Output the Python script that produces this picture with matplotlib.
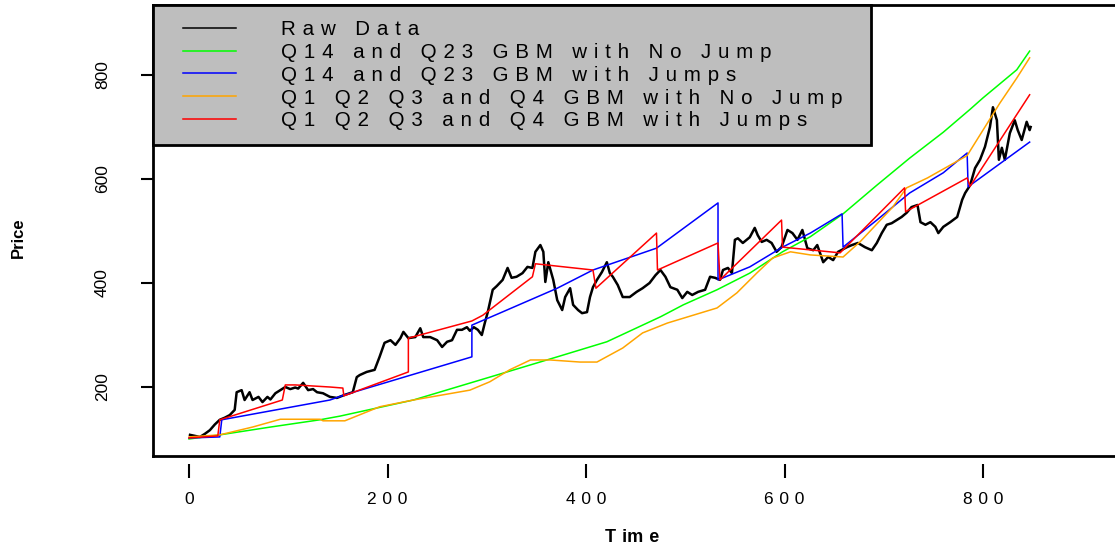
import matplotlib
matplotlib.use("Agg")
import matplotlib.pyplot as plt
from matplotlib import font_manager
from matplotlib.lines import Line2D
from matplotlib.legend_handler import HandlerLine2D

# raw price series
raw_t = [1, 6, 11, 16, 21, 26, 31, 36, 41, 46, 48, 53, 56, 61, 64, 70, 74, 79, 82, 87,
         92, 97, 102, 107, 110, 115, 120, 125, 129, 135, 142, 149, 157, 165, 169, 172, 179,
         187, 192, 197, 203, 208, 213, 216, 221, 228, 233, 236, 243, 250, 255, 260, 265,
         270, 275, 280, 283, 287, 291, 295, 298, 301, 306, 310, 316, 321, 325, 330, 336,
         341, 346, 349, 354, 357, 359, 362, 367, 371, 376, 379, 384, 387, 392, 396, 401,
         404, 407, 411, 416, 421, 424, 427, 432, 437, 444, 451, 457, 464, 470, 475, 480,
         485, 492, 497, 502, 507, 513, 520, 525, 530, 535, 538, 543, 547, 550, 553, 558,
         565, 570, 573, 577, 582, 587, 592, 597, 603, 608, 613, 618, 623, 629, 633, 639,
         644, 649, 654, 663, 668, 674, 681, 688, 693, 698, 703, 708, 713, 718, 723, 728,
         734, 737, 742, 747, 752, 755, 760, 767, 774, 779, 782, 787, 792, 797, 802, 807,
         810, 814, 816, 819, 822, 827, 832, 835, 839, 844, 847, 848]
raw_price = [108, 106, 104, 110, 117, 128, 137, 141, 146, 156, 190, 194, 175, 190, 175, 181,
             171, 181, 176, 188, 194, 200, 196, 199, 197, 208, 194, 196, 190, 188, 181, 179,
             185, 190, 219, 223, 229, 233, 258, 285, 290, 281, 294, 306, 294, 296, 313, 296,
             296, 290, 277, 287, 290, 310, 310, 315, 308, 315, 310, 300, 323, 344, 387, 394,
             406, 429, 410, 412, 419, 431, 429, 460, 473, 460, 402, 440, 406, 367, 348, 373,
             390, 358, 348, 342, 344, 373, 392, 406, 421, 440, 419, 412, 396, 373, 373, 383,
             390, 400, 415, 425, 412, 392, 387, 371, 383, 377, 383, 387, 412, 410, 406, 425,
             429, 419, 483, 486, 477, 488, 506, 492, 479, 483, 477, 460, 469, 502, 496, 483,
             502, 467, 463, 473, 440, 450, 444, 460, 469, 473, 477, 469, 463, 477, 496, 512,
             515, 521, 527, 535, 546, 550, 517, 512, 517, 508, 496, 508, 517, 527, 560, 573,
             588, 621, 637, 662, 700, 738, 713, 637, 660, 637, 688, 713, 694, 675, 710, 694, 700]

# Q14 and Q23 GBM, no jump
green_t = [0, 31, 82, 132, 152, 226, 303, 371, 421, 475, 498, 532, 565, 598, 626, 659, 693,
           726, 760, 787, 800, 834, 847]
green_price = [100, 108, 123, 137, 144, 175, 219, 258, 287, 335, 358, 387, 419, 460, 489, 533,
               588, 640, 690, 734, 756, 810, 846]

# Q14 and Q23 GBM, with jumps
blue_t = [0, 31, 33, 142, 157, 285, 285, 313, 371, 407, 471, 533, 533, 565, 598, 626, 658,
          659, 693, 726, 760, 784, 785, 847]
blue_price = [102, 104, 137, 175, 185, 258, 319, 342, 390, 425, 467, 554, 406, 431, 469, 496,
              533, 469, 521, 573, 612, 650, 585, 671]

# Q1 Q2 Q3 and Q4 GBM, no jump
orange_t = [0, 31, 64, 92, 132, 135, 157, 192, 226, 283, 303, 323, 344, 364, 394, 411, 437,
            457, 482, 532, 552, 572, 588, 606, 626, 659, 676, 709, 723, 744, 784, 800, 817,
            834, 847]
orange_price = [104, 108, 123, 138, 138, 135, 135, 162, 175, 194, 210, 233, 252, 252, 248, 248,
                275, 304, 323, 352, 381, 419, 448, 460, 454, 450, 479, 546, 583, 602, 645, 694,
                746, 794, 833]

# Q1 Q2 Q3 and Q4 GBM, with jumps
red_t = [0, 29, 31, 94, 97, 107, 142, 155, 156, 221, 221, 285, 296, 346, 349, 407, 410, 471,
         472, 533, 535, 597, 598, 656, 721, 722, 784, 787, 847]
red_price = [102, 106, 137, 175, 204, 204, 200, 198, 183, 229, 294, 327, 338, 412, 437, 425,
             390, 496, 425, 477, 406, 521, 469, 458, 583, 537, 602, 586, 762]

labels = ["Raw Data", "Q14 and Q23 GBM with No Jump", "Q14 and Q23 GBM with Jumps",
          "Q1 Q2 Q3 and Q4 GBM with No Jump", "Q1 Q2 Q3 and Q4 GBM with Jumps"]
colors = ["black", "#00ff00", "#0000ff", "#ffa500", "#ff0000"]
x_ticks = [0, 200, 400, 600, 800]
y_ticks = [200, 400, 600, 800]

GAP = "\u2004"


def spaced(s):
    # the original device draws every glyph with a wide gap
    return GAP.join(s)


class PaddedLine(HandlerLine2D):
    # legend sample starts a bit to the right of the box edge
    def create_artists(self, legend, orig_handle, xdescent, ydescent, width, height,
                       fontsize, trans):
        arts = super().create_artists(legend, orig_handle, xdescent, ydescent, width,
                                      height, fontsize, trans)
        for a in arts:
            x = list(a.get_xdata())
            if len(x) >= 2:
                x[0] = x[0] + 11
                a.set_xdata(x)
        return arts


installed = {f.name for f in font_manager.fontManager.ttflist}
narrow = "Liberation Sans Narrow" if "Liberation Sans Narrow" in installed else "Liberation Sans"
plt.rcParams["font.family"] = ["Liberation Sans", "DejaVu Sans"]

fig = plt.figure(figsize=(11.15, 5.52), dpi=100)
ax = fig.add_axes([153 / 1115, 1 - 455.5 / 552, 1 - 153 / 1115, 450.5 / 552])

ax.plot(raw_t, raw_price, color=colors[0], lw=1.8)
ax.plot(green_t, green_price, color=colors[1], lw=1.1)
ax.plot(blue_t, blue_price, color=colors[2], lw=1.1)
ax.plot(orange_t, orange_price, color=colors[3], lw=1.1)
ax.plot(red_t, red_price, color=colors[4], lw=1.1)

ax.set_xlim(-36.3, 933)
ax.set_ylim(68.3, 934.6)

for side in ["left", "top"]:
    ax.spines[side].set_linewidth(2.0)
ax.spines["right"].set_visible(False)
# x axis sits a little below the frame, like R's axis()
ax.spines["bottom"].set_position(("outward", 6))
ax.spines["bottom"].set_color("none")
ax.plot([0, 1], [0, 0], transform=ax.transAxes, color="black", lw=2.0, clip_on=False)

ax.set_xticks(x_ticks)
ax.set_xticklabels([spaced(str(v)) for v in x_ticks], fontfamily=[narrow, "DejaVu Sans"],
                   fontsize=12.5)
ax.set_yticks(y_ticks)
ax.set_yticklabels([str(v) for v in y_ticks], rotation=90, va="center", fontsize=12.5)
ax.tick_params(axis="x", direction="out", length=10, width=1.5, color="black", pad=10)
ax.tick_params(axis="y", direction="out", length=9, width=1.5, color="black", pad=22)

fig.text(632 / 1115, 1 - 538 / 552, "T" + GAP + "im" + GAP + "e", ha="center", va="center",
         fontfamily=[narrow, "DejaVu Sans"], fontsize=13, fontweight="bold")
fig.text(18 / 1115, 1 - 238 / 552, "Price", ha="center", va="center", rotation=90,
         fontsize=12, fontweight="bold")

handles = [Line2D([], [], color=c, lw=1.1) for c in colors]
leg = ax.legend(handles, [spaced(l) + GAP * 2 for l in labels],
                handler_map={Line2D: PaddedLine()},
                loc="upper left", bbox_to_anchor=(0, 1), borderaxespad=0,
                fancybox=False, facecolor="#bebebe", edgecolor="black", framealpha=1,
                prop={"family": [narrow, "DejaVu Sans"], "size": 14.8},
                handlelength=3.3, handletextpad=2.2, labelspacing=0.19, borderpad=0.72)
leg.get_frame().set_linewidth(2.0)

fig.savefig("out.png", dpi=100)
